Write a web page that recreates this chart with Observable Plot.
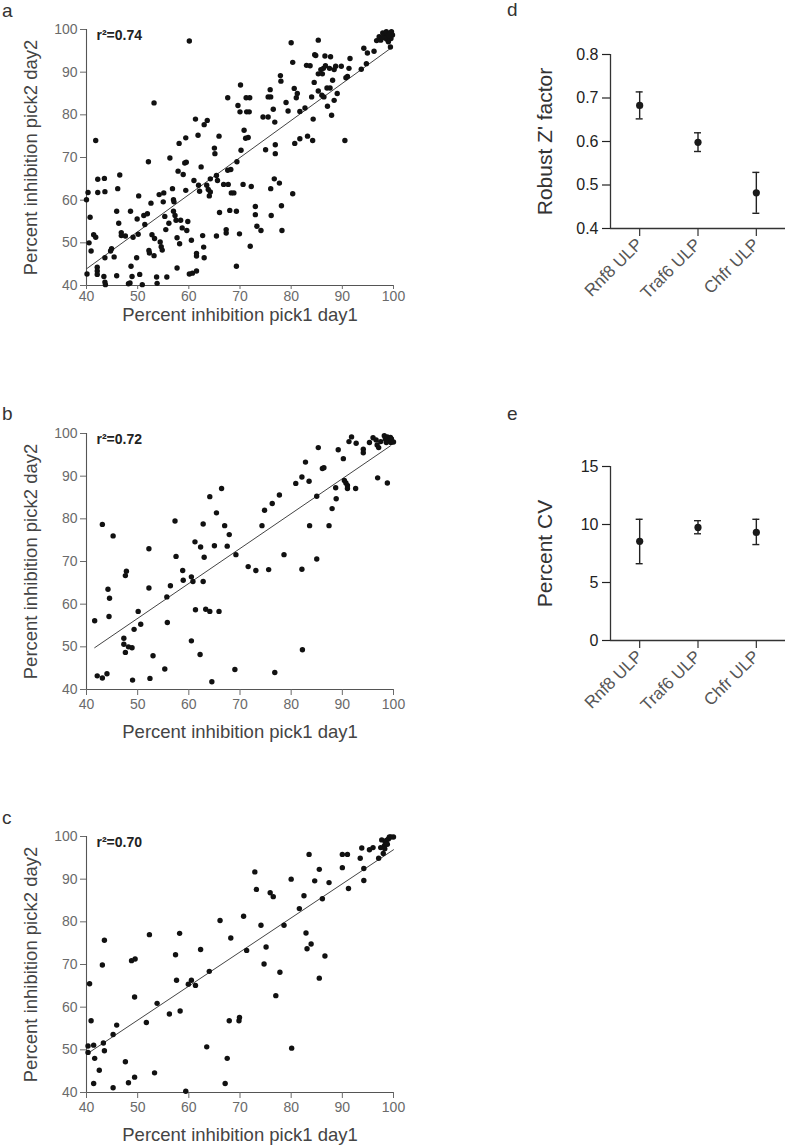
<!DOCTYPE html>
<html><head><meta charset="utf-8">
<script src="https://cdn.jsdelivr.net/npm/d3@7"></script>
<script src="https://cdn.jsdelivr.net/npm/@observablehq/plot@0.6"></script>
<style>
body{margin:0;background:#fff;font-family:"Liberation Sans",Arial,sans-serif;}
#fig{position:relative;width:787px;height:1146px;overflow:hidden;background:#fff;}
.panel{position:absolute;}
.letter{position:absolute;font-size:19px;color:#333;line-height:1;}
</style></head><body><div id="fig"></div>
<script>
// ---------- data ----------
const axisTicks = [40, 50, 60, 70, 80, 90, 100];
const xTitle = "Percent inhibition pick1 day1";
const yTitle = "Percent inhibition pick2 day2";

const pointsA = [[40,60.1],[40.3,61.8],[40.7,56],[40.5,50],[40.1,42.7],[40.9,48.1],[41.4,51.9],[41.8,51.3],[41.8,74],[42.2,64.9],[42.2,61.8],[42.1,44.3],[42.1,43.4],[42.1,42.6],[43.5,65.1],[43.6,62],[43.4,42.1],[43.6,40.8],[43.7,40.2],[43.6,46.5],[44.7,48.1],[44.9,48.6],[45.4,46.7],[45.9,42.3],[45.9,57.4],[46.1,62.7],[46.3,54.6],[46.5,65.9],[46.8,52.4],[46.8,51.7],[47.6,51.6],[48.2,40.4],[48.5,40.6],[48.6,57.4],[48.7,44.5],[48.9,42.1],[49.1,51.3],[49.8,46.5],[49.9,55.6],[50.1,52],[50.2,61],[50.4,42.6],[50.9,40.2],[51.2,56.4],[51.4,54.3],[51.9,56.8],[52.1,69],[52.2,48.2],[52.3,47.6],[52.6,59.3],[52.8,51.9],[53.2,82.8],[53.3,51],[53.2,47],[53.7,42],[53.8,40.5],[54.2,61.3],[54.4,50.2],[54.6,49.1],[54.8,48.3],[55,59.6],[55.1,61.7],[55.3,56.2],[55.5,53.1],[55.7,42],[56.1,54.6],[56.3,69.9],[56.8,62.7],[57,60.1],[57.1,59.6],[57,57.4],[57.3,56.4],[57.5,55.3],[57.7,51.2],[57.7,44.1],[57.9,66.8],[58.1,73.3],[58.2,49.8],[58.4,55.3],[58.7,53.5],[58.9,66],[59.2,68.7],[59.4,74.6],[59.4,62.3],[59.5,68.9],[59.6,52.9],[59.8,55],[60.1,97.3],[60.1,42.7],[60.5,50.6],[60.7,42.9],[61,64.6],[61.3,79],[61.5,43.4],[61.5,47.5],[61.5,46.9],[61.8,75.2],[61.9,63.5],[62.1,62.1],[62.4,67.8],[62.7,51.7],[62.9,49],[63,46.5],[63,77.7],[63.5,63.5],[63.6,78.7],[63.8,62.5],[64,61],[64.2,61.9],[64.2,65],[65,72.2],[65.1,70.9],[65.4,65.8],[65.4,51.6],[65.6,64.6],[65.9,75],[66,57.1],[66.8,63.7],[67.3,53.1],[67.3,52.3],[67.6,84],[67.6,67],[67.7,63.7],[68,57.6],[68.2,67.2],[68.3,61.7],[68.8,61.7],[69.3,57.4],[69.3,44.5],[69.4,69],[69.6,82.2],[69.9,52.1],[70,80.7],[70.1,87],[70.2,71.7],[70.6,63.7],[70.8,76.4],[71.1,74.5],[71.2,84],[71.3,80.7],[71.6,74.7],[71.8,80.7],[71.9,84],[72,49.2],[72.2,63.2],[73,58.5],[73,56.6],[73.3,53.9],[74.1,52.9],[74.5,79.5],[75,71.8],[75.5,79.5],[75.5,84.2],[75.9,85.9],[76,84.2],[76,62.7],[76.1,56.4],[76.5,81.3],[76.7,65],[76.9,73],[76.9,70.9],[76.8,78.3],[77.7,64],[77.9,89.2],[78,87.9],[78.1,58.7],[78.2,52.9],[79,82.9],[79.4,80.9],[80,96.9],[80.3,92.3],[80.3,61.5],[80.6,86.2],[80.7,73.3],[81,84],[81.2,85],[81.7,80.8],[81.7,74.4],[82.7,81.6],[83,91.6],[83.2,75],[83.7,91.5],[84,84.2],[84.2,74],[84.3,79],[84.5,87.6],[84.6,94.1],[84.8,93.9],[85.3,97.5],[85.3,89.6],[85.3,85.6],[85.8,90.6],[86,84.6],[86.1,89.6],[86.3,90.9],[86.4,84.2],[86.6,93.8],[86.7,91.5],[87,86.3],[87.1,82],[87.5,90.9],[87.6,86.3],[87.7,93.6],[87.9,79.9],[88.1,88.1],[88.4,90.6],[88.4,83.4],[88.7,91.4],[89,85],[89.8,91.4],[90.5,74],[90.7,88.7],[91,89],[91.3,90.9],[91.5,93.2],[93.7,90.7],[94.2,95.6],[94.7,92],[94.9,94.5],[96.2,94.9],[96.7,97.4],[97.2,98.3],[97.5,97.5],[97.9,99.2],[98.2,98.7],[98.6,99.5],[98.9,98.3],[99.2,99.1],[99.5,97.9],[99.4,95.9],[99,97.1],[98.7,97.7],[99.6,99.5],[99.8,98.7],[98.4,98],[99.1,98.6],[97.8,98.1]];
const fitA = [[40, 43.9], [99.8, 95.9]];

const pointsB = [[41.6,56.1],[42.1,43.2],[43.1,42.7],[43.1,78.7],[44,43.7],[44.2,63.5],[44.5,61.4],[44.4,57.1],[45.2,76],[47.3,52],[47.3,50.6],[47.6,48.7],[47.8,67.7],[47.6,66.7],[48.2,50],[48.9,49.8],[49,42.2],[49.3,54.1],[50.1,58.3],[50.6,55.3],[52.2,73],[52.2,63.8],[52.4,42.6],[53,47.9],[55.3,44.8],[55.7,61.7],[55.8,55.7],[56.4,64.3],[57.3,79.5],[57.5,71.2],[58.8,67.9],[58.9,65.6],[60.5,51.4],[60.5,66.4],[60.8,65.3],[61.2,74.6],[61.3,58.7],[62.2,48.2],[62.3,73.4],[62.8,65.3],[62.8,78.8],[63,71],[63.3,58.8],[64.1,58.3],[64.1,85.2],[64.5,41.8],[65,73.7],[65.4,81.4],[65.9,58.3],[66.4,87.1],[67,78.4],[67.5,73.6],[67.9,76.3],[69,44.7],[69.2,71.6],[71.6,68.8],[73.1,67.9],[74.3,78.4],[74.8,82],[75.6,68.1],[76.3,83.6],[76.8,44],[77.7,85.6],[78.6,71.6],[80.9,88.3],[82.1,89.8],[82.1,68.2],[82.2,49.3],[82.8,93.3],[83.5,88.8],[83.6,78.4],[85,70.6],[85,85.3],[85.3,96.7],[86.1,91.8],[86.4,92],[87.4,78.4],[88,82.4],[88.7,87.3],[88.8,84.7],[89.2,96.2],[90.2,94.1],[90.4,89],[90.7,88.4],[91,87.8],[91,87.1],[91.3,98.1],[91.8,99.2],[92.6,87.1],[92.7,97.7],[94.1,96.3],[94.1,95.5],[95.3,97.9],[96,99],[96.6,98.5],[96.8,97.3],[97.1,96.7],[96.9,89.6],[97.5,98.1],[98.2,99.5],[98.4,98.7],[98.6,97.9],[98.8,99.2],[98.8,88.4],[99,98.3],[99.4,99.1],[99.5,97.9],[99.6,98.7],[100,98]];
const fitB = [[41.6, 49.8], [99.4, 97.1]];

const pointsC = [[40.3,50.9],[40.3,49.4],[40.6,65.5],[40.9,56.8],[41.4,51.1],[41.6,48],[41.4,42.1],[42.5,45.2],[43.1,69.9],[43.3,51.6],[43.5,49.8],[43.5,75.7],[45.2,53.6],[45.2,41.1],[45.9,55.8],[47.6,47.2],[48.2,42.3],[48.8,70.9],[49.5,71.3],[49.4,62.4],[49.4,43.6],[51.7,56.4],[52.3,77],[53.3,44.6],[53.8,60.9],[56.2,58.4],[57.4,72.3],[57.6,66.3],[58.2,77.3],[58.3,59.1],[59.4,40.3],[59.9,65.4],[60.5,66.3],[61.3,65.1],[62.3,73.5],[63.5,50.7],[64,68.4],[66.1,80.3],[67.1,42.1],[67.5,48],[67.9,56.8],[68.2,76.2],[69.8,56.8],[69.9,57.6],[70.7,81.3],[71.3,73.3],[72.9,91.7],[73.2,87.6],[74.1,79.2],[74.7,70.1],[75.1,74.1],[75.9,86.8],[76.5,85.9],[77,62.7],[77.8,68.2],[78.6,79.2],[80,90],[80.1,50.4],[81.6,83.1],[82.5,86.1],[82.9,77.4],[83.1,73.7],[83.5,95.8],[83.9,74.8],[84.6,89.6],[85.5,92.3],[85.5,66.8],[86.1,85.4],[86.6,72],[87.4,89.2],[90,95.8],[90,92.7],[91,95.8],[91.2,87.8],[93.5,94.9],[93.8,97.3],[94.2,92.5],[94.2,89.7],[95.3,96.9],[96,97.4],[97.1,94.9],[97.5,97.4],[97.7,99.2],[98,96],[98.2,97.8],[98.4,98.6],[98.6,99.1],[98.8,98.2],[99,99.4],[99.2,99.9],[99.5,99.9],[100,99.9],[98.3,97.1]];
const fitC = [[40.3, 49.2], [100, 96.9]];

const categories = ["Rnf8 ULP", "Traf6 ULP", "Chfr ULP"];
const zMean = [0.683, 0.598, 0.482];
const zLow  = [0.652, 0.577, 0.435];
const zHigh = [0.714, 0.620, 0.529];
const zTicks = [0.4, 0.5, 0.6, 0.7, 0.8];
const cvMean = [8.55, 9.75, 9.32];
const cvLow  = [6.62, 9.20, 8.27];
const cvHigh = [10.45, 10.33, 10.45];
const cvTicks = [0, 5, 10, 15];

// ---------- drawing ----------
const FONT = "'Liberation Sans', Arial, sans-serif";
const fig = document.getElementById("fig");

function place(node, left, top) {
  node.classList.add("panel");
  node.style.left = left + "px";
  node.style.top = top + "px";
  fig.appendChild(node);
}
function letter(t, left, top) {
  const d = document.createElement("div");
  d.className = "letter";
  d.textContent = t;
  d.style.left = left + "px";
  d.style.top = top + "px";
  fig.appendChild(d);
}

function scatter(points, fit, r2, opt) {
  return Plot.plot({
    width: 400, height: 345,
    marginLeft: 86, marginRight: 7, marginTop: 29, marginBottom: 60,
    style: {fontFamily: FONT, fontSize: "14px", color: "#6a6a6a", background: "transparent", overflow: "visible"},
    x: {domain: [40, 100]},
    y: {domain: [40, 100]},
    marks: [
      Plot.ruleX([axisTicks[0]], {stroke: "#555", strokeWidth: 1.1}),
      Plot.ruleY([axisTicks[0]], {stroke: "#555", strokeWidth: 1.1}),
      Plot.axisX({ticks: axisTicks, tickSize: opt.tick, tickPadding: opt.pad, fontSize: 14, label: null}),
      Plot.axisY({ticks: axisTicks, tickSize: 6, tickPadding: 3, fontSize: 14, label: null}),
      Plot.line(fit, {x: d => d[0], y: d => d[1], stroke: "#444", strokeWidth: 1}),
      Plot.dot(points, {x: d => d[0], y: d => d[1], r: 2.7, fill: "#111", stroke: null}),
      Plot.text([r2], {frameAnchor: "top-left", dx: 10, dy: 1, fontSize: 14, fontWeight: "bold", fill: "#222", textAnchor: "start", lineAnchor: "top"}),
      Plot.text([xTitle], {frameAnchor: "bottom", dy: opt.title, fontSize: 18.5, fill: "#444", textAnchor: "middle", lineAnchor: "middle"}),
      Plot.text([yTitle], {frameAnchor: "left", dx: -55, rotate: -90, fontSize: 18.5, fill: "#444", textAnchor: "middle", lineAnchor: "middle"})
    ]
  });
}

function errPlot(mean, low, high, domain, ticks, fmt, title) {
  const data = categories.map((c, i) => ({i, c, mean: mean[i], low: low[i], high: high[i]}));
  return Plot.plot({
    width: 307, height: 330,
    marginLeft: 130, marginRight: 2, marginTop: 54, marginBottom: 102,
    style: {fontFamily: FONT, fontSize: "16px", color: "#222", background: "transparent", overflow: "visible"},
    x: {domain: [-0.5, categories.length - 0.5]},
    y: {domain},
    marks: [
      Plot.ruleX([-0.5], {stroke: "#333", strokeWidth: 1.3}),
      Plot.ruleY([domain[0]], {stroke: "#333", strokeWidth: 1.3}),
      Plot.axisY({ticks, tickSize: 8, tickPadding: 4, tickFormat: fmt, fontSize: 16, label: null, strokeWidth: 1.2}),
      Plot.axisX({ticks: categories.map((c, i) => i), tickFormat: i => categories[i], tickRotate: -45, tickSize: 8, tickPadding: 5, fontSize: 17, fill: "#555", stroke: "#333", strokeWidth: 1.2, label: null}),
      Plot.ruleX(data, {x: "i", y1: "low", y2: "high", stroke: "#222", strokeWidth: 1.4}),
      Plot.ruleY(data, {y: "high", x1: "i", x2: "i", insetLeft: -3.5, insetRight: -3.5, stroke: "#222", strokeWidth: 1.4}),
      Plot.ruleY(data, {y: "low", x1: "i", x2: "i", insetLeft: -3.5, insetRight: -3.5, stroke: "#222", strokeWidth: 1.4}),
      Plot.dot(data, {x: "i", y: "mean", r: 3.6, fill: "#1a1a1a", stroke: null}),
      Plot.text([title], {frameAnchor: "left", dx: -65, rotate: -90, fontSize: 21, fill: "#333", textAnchor: "middle", lineAnchor: "middle"})
    ]
  });
}

place(scatter(pointsA, fitA, "r²=0.74", {tick: 4, pad: 2, title: 30}), 0, 0);
place(scatter(pointsB, fitB, "r²=0.72", {tick: 6, pad: 4, title: 43}), 0, 404);
place(scatter(pointsC, fitC, "r²=0.70", {tick: 6, pad: 4, title: 43}), 0, 807);
place(errPlot(zMean, zLow, zHigh, [0.4, 0.8], zTicks, d3.format(".1f"), "Robust Z' factor"), 480, 0);
place(errPlot(cvMean, cvLow, cvHigh, [0, 15], cvTicks, d3.format("d"), "Percent CV"), 480, 412);

letter("a", 2, 1);
letter("b", 2, 404);
letter("c", 2, 808);
letter("d", 507, 0);
letter("e", 507, 404);
</script>
</body></html>
